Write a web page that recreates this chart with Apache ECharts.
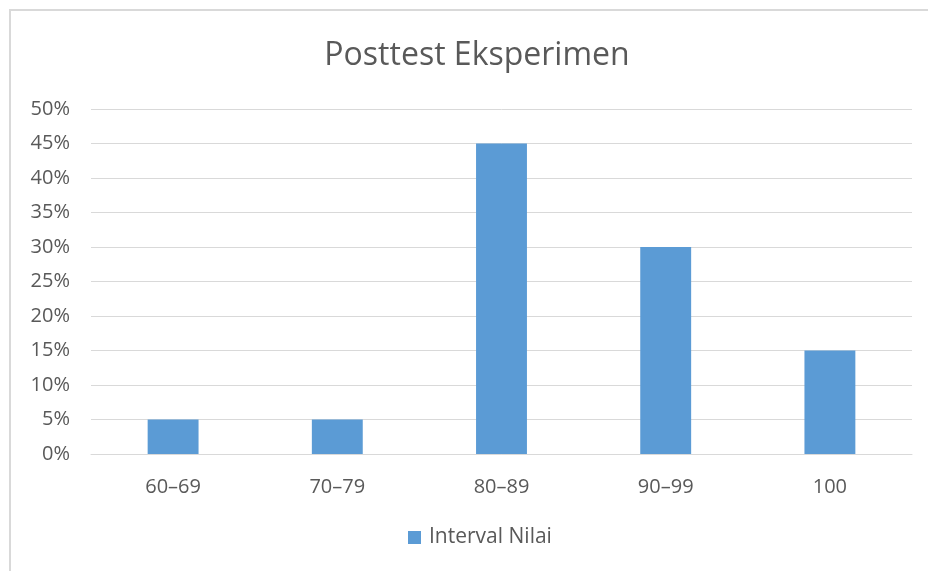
<!DOCTYPE html>
<html><head><meta charset="utf-8">
<script src="https://cdn.jsdelivr.net/npm/echarts@6/dist/echarts.min.js"></script>
<style>html,body{margin:0;padding:0;background:#fff}#c{width:928px;height:571px}</style>
</head><body><div id="c"></div>
<script>
const categories = ['60\u201369', '70\u201379', '80\u201389', '90\u201399', '100'];
const values = [5, 5, 45, 30, 15];
const seriesName = 'Interval Nilai';
const titleText = 'Posttest Eksperimen';

const FONT = 'Open Sans';
const chart = echarts.init(document.getElementById('c'));
chart.setOption({
  animation: false,
  backgroundColor: '#fff',
  graphic: [{
    type: 'rect', z: -1,
    shape: { x: 10, y: 10, width: 940, height: 590 },
    style: { fill: 'none', stroke: '#d9d9d9', lineWidth: 2 }
  }],
  title: {
    text: titleText, left: 472, textAlign: 'center', top: 35,
    textStyle: { fontFamily: FONT, fontSize: 32, fontWeight: 'normal', color: '#595959' }
  },
  legend: {
    bottom: 18, left: 403, itemWidth: 13, itemHeight: 13, icon: 'rect', itemGap: 6,
    textStyle: { fontFamily: FONT, fontSize: 21, color: '#595959', padding: [0, 0, 0, 3] },
    data: [seriesName]
  },
  grid: { left: 91, right: 16, top: 109, bottom: 117 },
  xAxis: {
    type: 'category', data: categories,
    axisLine: { lineStyle: { color: '#d9d9d9' } },
    axisTick: { show: false },
    axisLabel: { fontFamily: FONT, fontSize: 20, color: '#595959', margin: 23 }
  },
  yAxis: {
    type: 'value', min: 0, max: 50, interval: 5,
    axisLine: { show: false }, axisTick: { show: false },
    splitLine: { lineStyle: { color: '#d9d9d9' } },
    axisLabel: { fontFamily: FONT, fontSize: 20, color: '#595959', margin: 21, formatter: '{value}%' }
  },
  series: [{
    name: seriesName, type: 'bar', data: values, barWidth: '31%',
    itemStyle: { color: '#5B9BD5' }
  }]
});
</script></body></html>
